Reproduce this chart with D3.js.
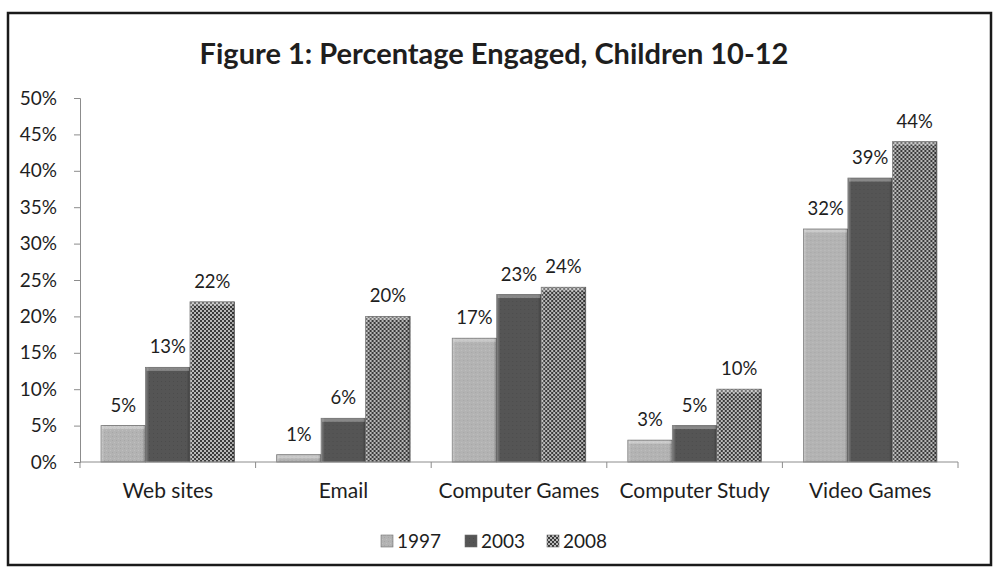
<!DOCTYPE html>
<html>
<head>
<meta charset="utf-8">
<script src="https://cdn.jsdelivr.net/npm/d3@7"></script>
<style>
  html, body { margin: 0; padding: 0; background: #fff; }
  svg { display: block; }
  text { font-family: Lato, "Open Sans", sans-serif; fill: #1e1e1e; }
</style>
</head>
<body>
<svg id="chart" width="1001" height="567"></svg>
<script>
// Share of children aged 10-12 engaged in each activity, by survey year
const categories = ["Web sites", "Email", "Computer Games", "Computer Study", "Video Games"];
const years = ["1997", "2003", "2008"];
const values1997 = [0.05, 0.01, 0.17, 0.03, 0.32];
const values2003 = [0.13, 0.06, 0.23, 0.05, 0.39];
const values2008 = [0.22, 0.20, 0.24, 0.10, 0.44];
const yTicks = [0, 0.05, 0.10, 0.15, 0.20, 0.25, 0.30, 0.35, 0.40, 0.45, 0.50];

const seriesValues = [values1997, values2003, values2008];
const rows = categories.map((c, i) => ({
  category: c,
  bars: years.map((y, j) => ({ year: y, value: seriesValues[j][i] }))
}));

const svg = d3.select("#chart");
const defs = svg.append("defs");

// Fill patterns: light textured grey, solid dark grey, fine checker
const p1 = defs.append("pattern").attr("id", "fill-1997")
  .attr("width", 4).attr("height", 4).attr("patternUnits", "userSpaceOnUse");
p1.append("rect").attr("width", 4).attr("height", 4).attr("fill", "#b3b3b3");
p1.append("rect").attr("x", 0).attr("y", 0).attr("width", 1).attr("height", 1).attr("fill", "#a6a6a6");
p1.append("rect").attr("x", 2).attr("y", 2).attr("width", 1).attr("height", 1).attr("fill", "#bfbfbf");

const p2 = defs.append("pattern").attr("id", "fill-2003")
  .attr("width", 4).attr("height", 4).attr("patternUnits", "userSpaceOnUse");
p2.append("rect").attr("width", 4).attr("height", 4).attr("fill", "#555555");
p2.append("rect").attr("x", 1).attr("y", 1).attr("width", 1).attr("height", 1).attr("fill", "#4c4c4c");

const p3 = defs.append("pattern").attr("id", "fill-2008")
  .attr("width", 4).attr("height", 4).attr("patternUnits", "userSpaceOnUse");
p3.append("rect").attr("width", 4).attr("height", 4).attr("fill", "#b8b8b8");
p3.append("rect").attr("x", 0).attr("y", 0).attr("width", 2).attr("height", 2).attr("fill", "#3a3a3a");
p3.append("rect").attr("x", 2).attr("y", 2).attr("width", 2).attr("height", 2).attr("fill", "#3a3a3a");

// Bevel shading laid over each bar
const bevelH = defs.append("linearGradient").attr("id", "bevel-h")
  .attr("x1", 0).attr("x2", 1).attr("y1", 0).attr("y2", 0);
bevelH.append("stop").attr("offset", 0).attr("stop-color", "#fff").attr("stop-opacity", 0.25);
bevelH.append("stop").attr("offset", 0.08).attr("stop-color", "#fff").attr("stop-opacity", 0);
bevelH.append("stop").attr("offset", 0.92).attr("stop-color", "#000").attr("stop-opacity", 0);
bevelH.append("stop").attr("offset", 1).attr("stop-color", "#000").attr("stop-opacity", 0.25);

const fills = { "1997": "url(#fill-1997)", "2003": "url(#fill-2003)", "2008": "url(#fill-2008)" };

// Outer frame
svg.append("rect")
  .attr("x", 8).attr("y", 13).attr("width", 983).attr("height", 552)
  .attr("fill", "#fff").attr("stroke", "#1a1a1a").attr("stroke-width", 2.5);

// Title
svg.append("text")
  .attr("x", 494).attr("y", 64)
  .attr("text-anchor", "middle")
  .attr("font-size", 29).attr("font-weight", 700)
  .text("Figure 1: Percentage Engaged, Children 10-12");

const plotLeft = 80, plotRight = 958, plotTop = 98, plotBottom = 462;

const x0 = d3.scaleBand().domain(categories).range([plotLeft, plotRight]).paddingInner(0).paddingOuter(0);
const groupPad = 0.12;
const x1 = d3.scaleBand().domain(years)
  .range([x0.bandwidth() * groupPad, x0.bandwidth() * (1 - groupPad)]).padding(0);
const y = d3.scaleLinear().domain([0, 0.5]).range([plotBottom, plotTop]);

// Y axis
const yAxis = svg.append("g").attr("transform", `translate(${plotLeft},0)`)
  .call(d3.axisLeft(y).tickValues(yTicks).tickFormat(d3.format(".0%")).tickSize(6).tickPadding(17));
yAxis.select(".domain").attr("stroke", "#8c8c8c");
yAxis.selectAll(".tick line").attr("stroke", "#8c8c8c");
yAxis.selectAll(".tick text").attr("font-size", 19).attr("fill", "#1e1e1e")
  .style("font-family", "Lato, 'Open Sans', sans-serif");

// Bars
const groups = svg.append("g").selectAll("g.group")
  .data(rows).join("g").attr("class", "group")
  .attr("transform", d => `translate(${x0(d.category)},0)`);

groups.selectAll("rect.bar")
  .data(d => d.bars).join("rect").attr("class", "bar")
  .attr("x", d => x1(d.year))
  .attr("y", d => y(d.value))
  .attr("width", x1.bandwidth())
  .attr("height", d => y(0) - y(d.value))
  .attr("fill", d => fills[d.year])
  .attr("stroke", "#6e6e6e").attr("stroke-width", 0.8);

groups.selectAll("rect.shade")
  .data(d => d.bars).join("rect").attr("class", "shade")
  .attr("x", d => x1(d.year))
  .attr("y", d => y(d.value))
  .attr("width", x1.bandwidth())
  .attr("height", d => y(0) - y(d.value))
  .attr("fill", "url(#bevel-h)");

// Top highlight strip on each bar
groups.selectAll("rect.top")
  .data(d => d.bars).join("rect").attr("class", "top")
  .attr("x", d => x1(d.year) + 1)
  .attr("y", d => y(d.value) + 0.5)
  .attr("width", x1.bandwidth() - 2)
  .attr("height", d => Math.min(3, y(0) - y(d.value)))
  .attr("fill", "#fff").attr("opacity", 0.3);

// Value labels
groups.selectAll("text.val")
  .data(d => d.bars).join("text").attr("class", "val")
  .attr("x", d => x1(d.year) + x1.bandwidth() / 2)
  .attr("y", d => y(d.value) - 14)
  .attr("text-anchor", "middle")
  .attr("font-size", 18.5)
  .text(d => d3.format(".0%")(d.value));

// X axis with ticks between categories
const xAxis = svg.append("g").attr("transform", `translate(0,${plotBottom})`);
xAxis.append("line").attr("x1", plotLeft).attr("x2", plotRight)
  .attr("stroke", "#8c8c8c");
xAxis.selectAll("line.tk")
  .data(categories.map(c => x0(c)).concat([plotRight]))
  .join("line").attr("class", "tk")
  .attr("x1", d => d).attr("x2", d => d).attr("y1", 0).attr("y2", 6)
  .attr("stroke", "#8c8c8c");
xAxis.selectAll("text.cat")
  .data(categories).join("text").attr("class", "cat")
  .attr("x", d => x0(d) + x0.bandwidth() / 2)
  .attr("y", 36)
  .attr("text-anchor", "middle")
  .attr("font-size", 21)
  .text(d => d);

// Legend
const legendItems = [
  { year: "1997", x: 381 },
  { year: "2003", x: 465 },
  { year: "2008", x: 547 }
];
const legend = svg.append("g").attr("transform", "translate(0,541)");
legend.selectAll("rect")
  .data(legendItems).join("rect")
  .attr("x", d => d.x).attr("y", -6).attr("width", 12).attr("height", 12)
  .attr("fill", d => fills[d.year]).attr("stroke", "#6e6e6e").attr("stroke-width", 0.6);
legend.selectAll("text")
  .data(legendItems).join("text")
  .attr("x", d => d.x + 16).attr("y", 7)
  .attr("font-size", 19)
  .text(d => d.year);
</script>
</body>
</html>
